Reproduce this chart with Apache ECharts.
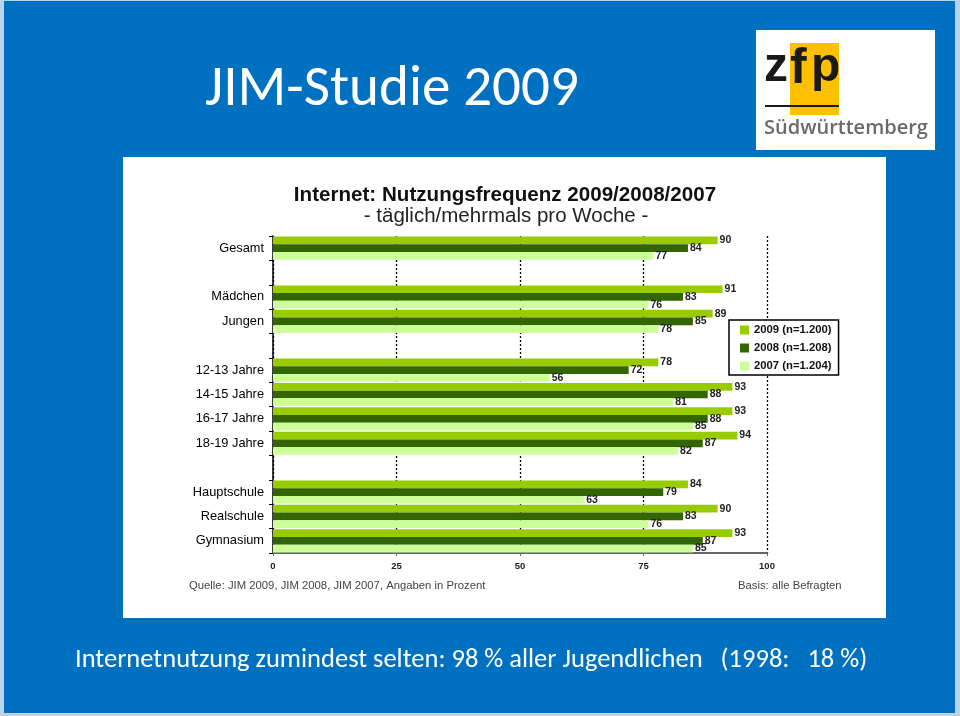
<!DOCTYPE html>
<html>
<head>
<meta charset="utf-8">
<title>JIM-Studie 2009</title>
<script src="https://cdn.jsdelivr.net/npm/echarts@6/dist/echarts.min.js"></script>
<style>
  html, body { margin: 0; padding: 0; background: #b9d3ea; }
  #chart { width: 960px; height: 716px; }
</style>
</head>
<body>
<div id="chart"></div>
<script>
// categories, '' = empty spacer row between groups
const categories = ['Gesamt', '', 'Mädchen', 'Jungen', '', '12-13 Jahre', '14-15 Jahre', '16-17 Jahre', '18-19 Jahre', '', 'Hauptschule', 'Realschule', 'Gymnasium']
const seriesNames = ['2009 (n=1.200)', '2008 (n=1.208)', '2007 (n=1.204)']
const values2009 = [90, '-', 91, 89, '-', 78, 93, 93, 94, '-', 84, 90, 93]
const values2008 = [84, '-', 83, 85, '-', 72, 88, 88, 87, '-', 79, 83, 87]
const values2007 = [77, '-', 76, 78, '-', 56, 81, 85, 82, '-', 63, 76, 85]
const xTicks = [0, 25, 50, 75, 100]

const colors = ['#99CC00', '#336600', '#CCFF99']
const chartFont = '"Liberation Sans", Arial, sans-serif'
const slideFont = 'Carlito, Lato, "Open Sans", sans-serif'

const chart = echarts.init(document.getElementById('chart'))

const barLabel = {
  show: true,
  position: 'right',
  distance: 2,
  fontSize: 10.5,
  fontWeight: 'bold',
  fontFamily: chartFont,
  color: '#222'
}

const option = {
  animation: false,
  backgroundColor: '#b9d3ea',
  color: colors,
  title: [
    {
      text: 'Internet: Nutzungsfrequenz 2009/2008/2007',
      left: 500, top: 180, textAlign: 'center',
      textStyle: { fontFamily: chartFont, fontSize: 20.6, fontWeight: 'bold', color: '#111' },
      z: 10
    },
    {
      text: '- täglich/mehrmals pro Woche -',
      left: 501, top: 201, textAlign: 'center',
      textStyle: { fontFamily: chartFont, fontSize: 20.5, fontWeight: 'normal', color: '#222' },
      z: 10
    }
  ],
  legend: {
    orient: 'vertical',
    left: 729, top: 320,
    padding: [4, 7, 3, 11],
    backgroundColor: '#fff',
    borderColor: '#000',
    borderWidth: 1.5,
    itemWidth: 9, itemHeight: 9, itemGap: 6,
    icon: 'rect',
    textStyle: { fontFamily: chartFont, fontSize: 11.3, fontWeight: 'bold', color: '#111', lineHeight: 12 },
    data: seriesNames
  },
  grid: { left: 273, right: 193, top: 236, bottom: 163, containLabel: false },
  xAxis: {
    type: 'value',
    min: xTicks[0], max: xTicks[xTicks.length - 1], interval: 25,
    axisLine: { show: true, lineStyle: { color: '#666', width: 2 } },
    axisTick: { show: true, length: 3, lineStyle: { color: '#666' } },
    axisLabel: { fontFamily: chartFont, fontSize: 9.5, fontWeight: 'bold', color: '#222', margin: 8 },
    splitLine: { show: true, lineStyle: { color: '#000', width: 1.3, type: [2, 2] } }
  },
  yAxis: {
    type: 'category',
    inverse: true,
    data: categories,
    axisLine: { show: true, lineStyle: { color: '#000', width: 1.5 } },
    axisTick: { show: true, length: 4, lineStyle: { color: '#000' } },
    axisLabel: { fontFamily: chartFont, fontSize: 12.8, color: '#000', margin: 9 }
  },
  series: [
    { name: seriesNames[0], type: 'bar', data: values2009, barGap: 0, barCategoryGap: '5%', label: barLabel },
    { name: seriesNames[1], type: 'bar', data: values2008, barGap: 0, barCategoryGap: '5%', label: barLabel },
    { name: seriesNames[2], type: 'bar', data: values2007, barGap: 0, barCategoryGap: '5%', label: barLabel }
  ],
  graphic: [
    // slide background + white chart card
    { type: 'rect', z: -10, shape: { x: 4, y: 1, width: 951, height: 712 }, style: { fill: '#0070C0' }, silent: true },
    { type: 'rect', z: -9, shape: { x: 123, y: 157, width: 763, height: 461 }, style: { fill: '#fff' }, silent: true },
    // slide headline and bottom line
    { type: 'text', left: 205, top: 62, style: { text: 'JIM-Studie 2009', fill: '#fff', font: 'normal 57px ' + slideFont } },
    { type: 'text', left: 75, top: 647, style: { text: 'Internetnutzung zumindest selten: 98 % aller Jugendlichen   (1998:   18 %)', fill: '#fff', font: 'normal 26.5px ' + slideFont } },
    // source notes
    { type: 'text', left: 189, top: 580, style: { text: 'Quelle: JIM 2009, JIM 2008, JIM 2007, Angaben in Prozent', fill: '#444', font: 'normal 11.3px ' + chartFont } },
    { type: 'text', left: 738, top: 580, style: { text: 'Basis: alle Befragten', fill: '#444', font: 'normal 11.3px ' + chartFont } },
    // zfp logo
    { type: 'rect', z: 5, shape: { x: 756, y: 30, width: 179, height: 120 }, style: { fill: '#fff' }, silent: true },
    { type: 'rect', z: 6, shape: { x: 790, y: 43, width: 49, height: 72 }, style: { fill: '#FFC000' }, silent: true },
    { type: 'text', z: 7, left: 764, top: 44, style: { text: 'z', fill: '#1a1a1a', font: 'bold 48px ' + chartFont } },
    { type: 'text', z: 7, left: 790, top: 44, style: { text: 'f', fill: '#1a1a1a', font: 'bold 50px ' + chartFont } },
    { type: 'text', z: 7, left: 811, top: 44, style: { text: 'p', fill: '#1a1a1a', font: 'bold 48px ' + chartFont } },
    { type: 'line', z: 8, shape: { x1: 765, y1: 106, x2: 839, y2: 106 }, style: { stroke: '#1a1a1a', lineWidth: 2 } },
    { type: 'text', z: 7, left: 764, top: 118, style: { text: 'Südwürttemberg', fill: '#6a6a6a', font: '600 20px "Open Sans", sans-serif' } }
  ]
}

chart.setOption(option)
</script>
</body>
</html>
